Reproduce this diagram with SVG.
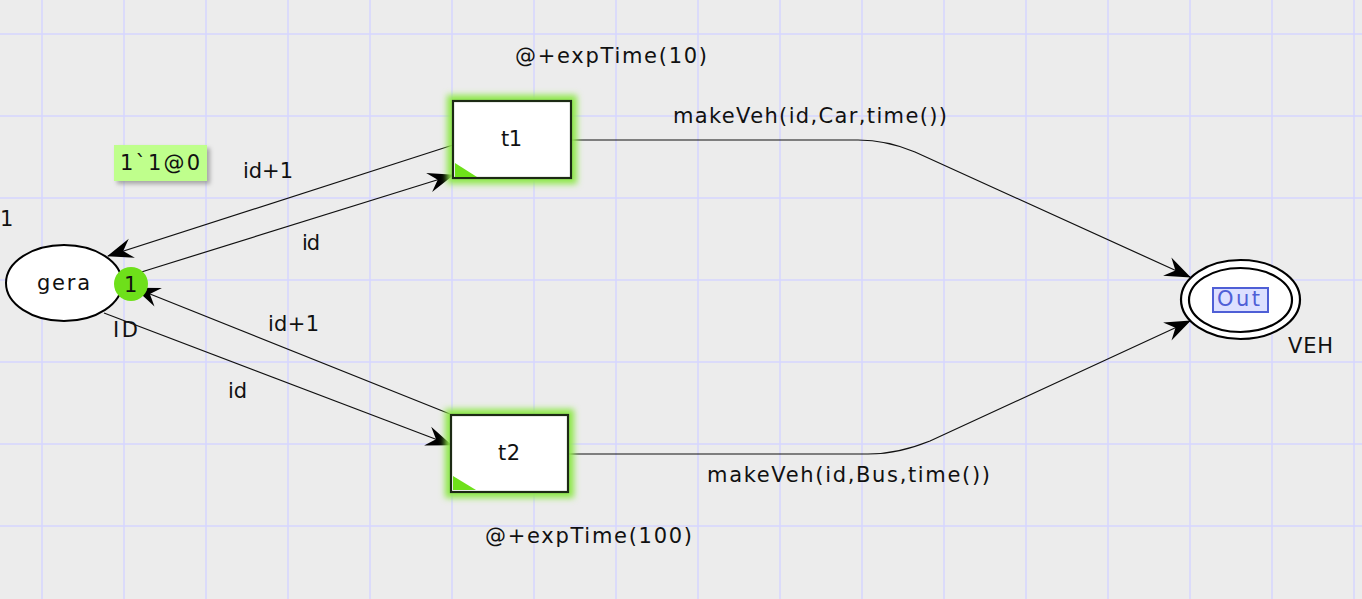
<svg xmlns="http://www.w3.org/2000/svg" width="1362" height="599" viewBox="0 0 1362 599">
<style>
text{font-family:"DejaVu Sans","Verdana",sans-serif;font-size:21px;fill:#111}
.grid line{stroke:#d6d6ff;stroke-width:1.5}
.arc{fill:none;stroke:#111;stroke-width:1.2}
.tr{fill:#fff;stroke:#1c2a14;stroke-width:2.2}
.glow{fill:none;stroke:#8ee84a;stroke-width:12;filter:url(#blur)}
.corner{fill:#6ee01a}
</style>
<defs>
<filter id="blur" x="-20%" y="-30%" width="140%" height="160%"><feGaussianBlur stdDeviation="3"/></filter>
<filter id="shadow" x="-20%" y="-30%" width="150%" height="170%"><feGaussianBlur stdDeviation="2"/></filter>
<marker id="arr" viewBox="0 0 26 22" refX="25" refY="11" markerWidth="26" markerHeight="22" markerUnits="userSpaceOnUse" orient="auto">
<path d="M0,1 L26,11 L0,21 L9,11 Z" fill="#000"/>
</marker>
</defs>
<rect width="1362" height="599" fill="#ececec"/>
<g class="grid">
<line x1="42" y1="0" x2="42" y2="599"/><line x1="124" y1="0" x2="124" y2="599"/><line x1="206" y1="0" x2="206" y2="599"/><line x1="288" y1="0" x2="288" y2="599"/><line x1="370" y1="0" x2="370" y2="599"/><line x1="452" y1="0" x2="452" y2="599"/><line x1="534" y1="0" x2="534" y2="599"/><line x1="616" y1="0" x2="616" y2="599"/><line x1="698" y1="0" x2="698" y2="599"/><line x1="780" y1="0" x2="780" y2="599"/><line x1="862" y1="0" x2="862" y2="599"/><line x1="944" y1="0" x2="944" y2="599"/><line x1="1026" y1="0" x2="1026" y2="599"/><line x1="1108" y1="0" x2="1108" y2="599"/><line x1="1190" y1="0" x2="1190" y2="599"/><line x1="1272" y1="0" x2="1272" y2="599"/><line x1="1354" y1="0" x2="1354" y2="599"/>
<line x1="0" y1="34" x2="1362" y2="34"/><line x1="0" y1="116" x2="1362" y2="116"/><line x1="0" y1="198" x2="1362" y2="198"/><line x1="0" y1="280" x2="1362" y2="280"/><line x1="0" y1="362" x2="1362" y2="362"/><line x1="0" y1="444" x2="1362" y2="444"/><line x1="0" y1="526" x2="1362" y2="526"/>
</g>
<g id="connectors">
<path class="arc" d="M453,145 L108,256" marker-end="url(#arr)"/>
<path class="arc" d="M135,274 L453,175" marker-end="url(#arr)"/>
<path class="arc" d="M450,414 L135,288" marker-end="url(#arr)"/>
<path class="arc" d="M104,313 L451,445" marker-end="url(#arr)"/>
<path class="arc" d="M571,140 L858,140 C880,140 896,144 915,152 L1190,277" marker-end="url(#arr)"/>
<path class="arc" d="M568,454 L868,454 C892,454 910,449 930,441 L1190,321" marker-end="url(#arr)"/>
<text x="243" y="178" textLength="50">id+1</text>
<text x="302" y="250" textLength="18">id</text>
<text x="268" y="331" textLength="51">id+1</text>
<text x="228" y="398" textLength="19">id</text>
<text x="673" y="123" textLength="274">makeVeh(id,Car,time())</text>
<text x="707" y="482" textLength="283">makeVeh(id,Bus,time())</text>
</g>
<g id="gera">
<ellipse cx="64" cy="283" rx="58" ry="38" fill="#fff" stroke="#000" stroke-width="2"/>
<text x="37" y="290" textLength="53">gera</text>
<text x="113" y="337" textLength="25">ID</text>
<text x="0" y="226">1</text>
<rect x="117" y="148" width="93" height="36" fill="#888" filter="url(#shadow)" opacity="0.7"/>
<rect x="114" y="145" width="93" height="36" fill="#bfff8c"/>
<text x="120" y="170" textLength="80">1`1@0</text>
<circle cx="131" cy="284" r="17" fill="#6ee01a"/>
<text x="124" y="292">1</text>
</g>
<g id="t1">
<rect class="glow" x="453" y="101" width="118" height="77"/>
<rect class="tr" x="453" y="101" width="118" height="77"/>
<polygon class="corner" points="455,163 455,177 477,177"/>
<text x="501" y="146" textLength="21">t1</text>
<text x="515" y="63" textLength="192">@+expTime(10)</text>
</g>
<g id="t2">
<rect class="glow" x="451" y="415" width="117" height="77"/>
<rect class="tr" x="451" y="415" width="117" height="77"/>
<polygon class="corner" points="453,476 453,490 476,490"/>
<text x="498" y="460" textLength="22">t2</text>
<text x="485" y="543" textLength="207">@+expTime(100)</text>
</g>
<g id="Out">
<ellipse cx="1240.5" cy="299.5" rx="59.5" ry="39.5" fill="#fff" stroke="#000" stroke-width="2.2"/>
<ellipse cx="1240.5" cy="300" rx="51.5" ry="32" fill="none" stroke="#000" stroke-width="2.2"/>
<rect x="1213" y="288" width="55" height="24" fill="#dde0ff" stroke="#4f5fd6" stroke-width="2"/>
<text x="1217" y="306" textLength="43" style="fill:#4f5fd6">Out</text>
<text x="1288" y="353" textLength="45">VEH</text>
</g>
</svg>
